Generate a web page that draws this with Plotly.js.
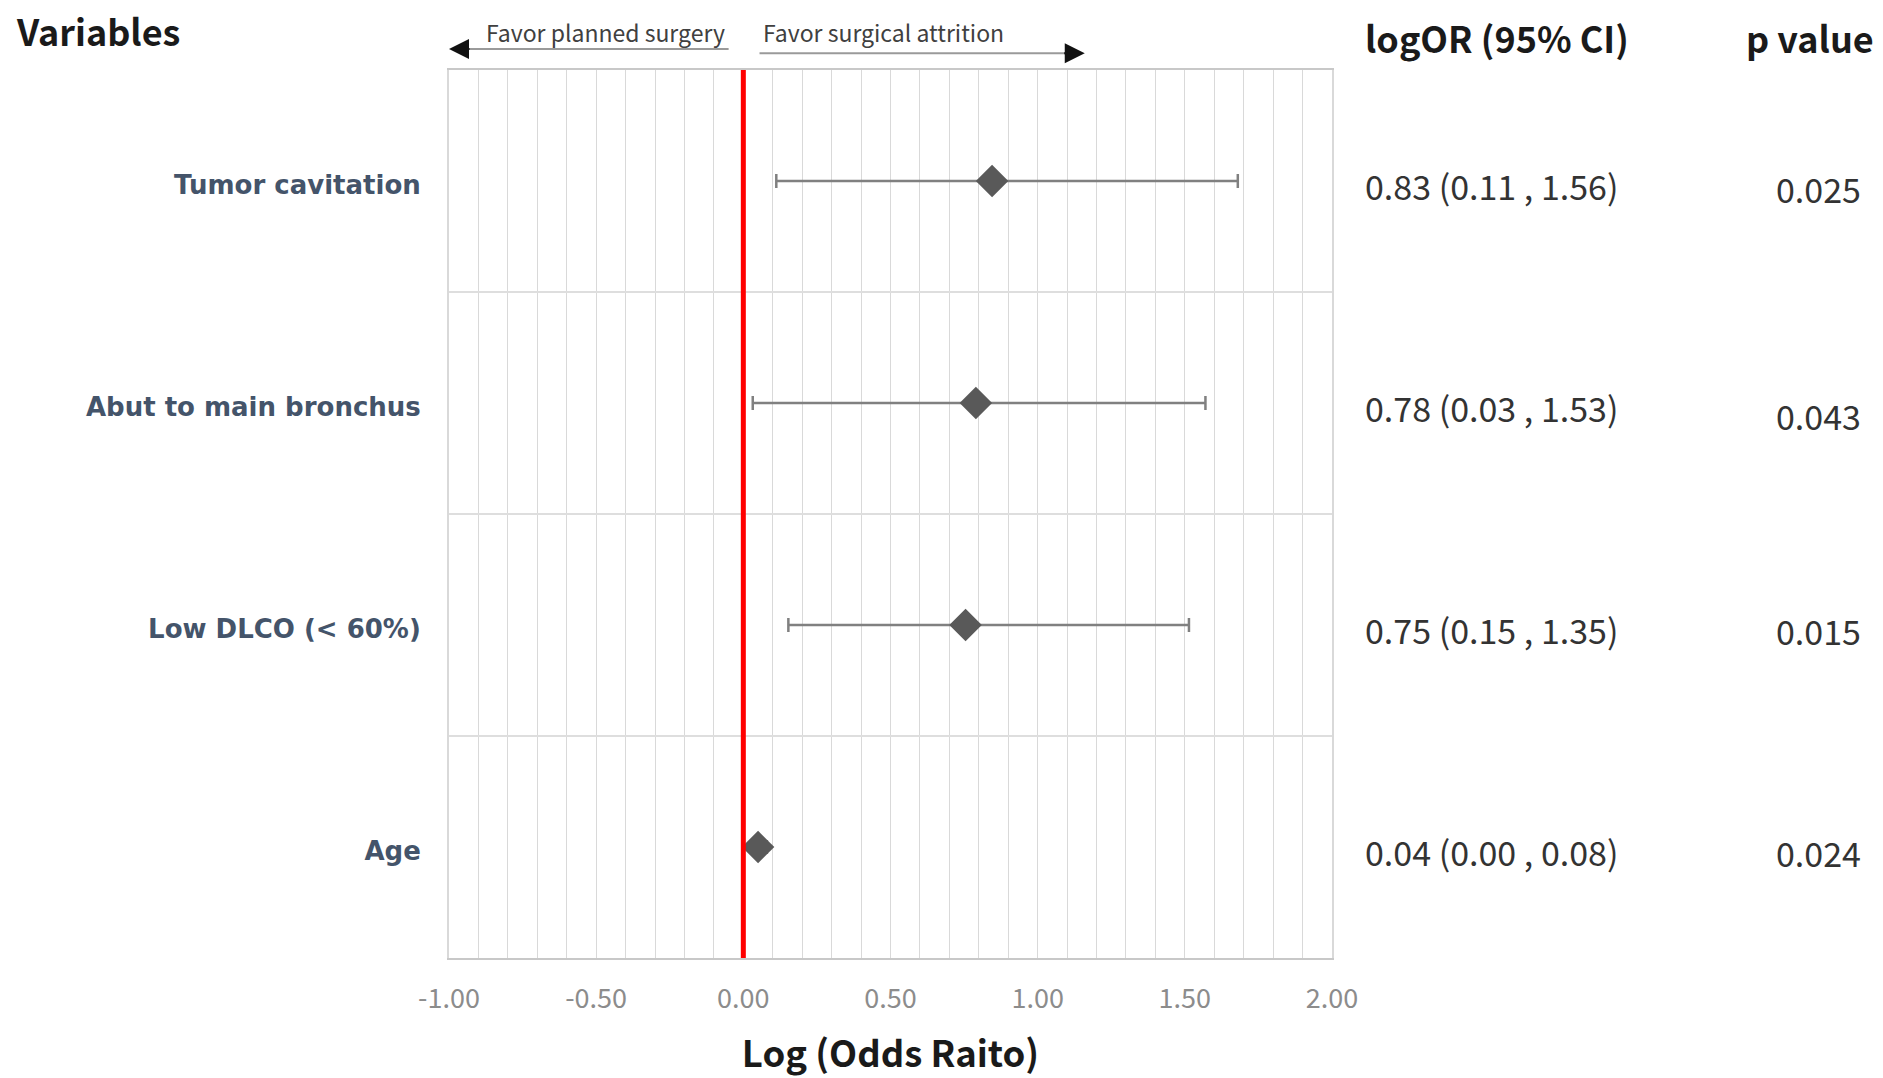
<!DOCTYPE html>
<html><head><meta charset="utf-8">
<script src="https://cdn.plot.ly/plotly-3.0.1.min.js"></script>
<style>html,body{margin:0;padding:0;background:#fff}</style>
</head><body><div id="chart" style="width:1883px;height:1078px"></div>
<script>
// ---- data ----
const variables = ["Tumor cavitation", "Abut to main bronchus", "Low DLCO (< 60%)", "Age"];
const logOR  = [0.845, 0.79, 0.755, 0.05];
const ciLow  = [0.112, 0.032, 0.153, 0.00];
const ciHigh = [1.68, 1.57, 1.514, 0.08];
const ciText = ["0.83 (0.11 , 1.56)", "0.78 (0.03 , 1.53)", "0.75 (0.15 , 1.35)", "0.04 (0.00 , 0.08)"];
const pValues = ["0.025", "0.043", "0.015", "0.024"];
const xTickVals = [-1, -0.5, 0, 0.5, 1, 1.5, 2];
const xTickText = ["-1.00", "-0.50", "0.00", "0.50", "1.00", "1.50", "2.00"];

const SANS = "Noto Sans CJK KR, Noto Sans, sans-serif";
const YFONT = "DejaVu Sans, Verdana, sans-serif";

const trace = {
  type: "scatter",
  mode: "markers",
  x: logOR,
  y: variables,
  marker: {symbol: "diamond", size: 25, color: "#595959"},
  error_x: {
    type: "data", symmetric: false,
    array: ciHigh.map((h, i) => h - logOR[i]),
    arrayminus: logOR.map((v, i) => v - ciLow[i]),
    color: "#808080", thickness: 2.5, width: 7
  },
  hoverinfo: "x+y",
  showlegend: false
};

const pShift = [-7, -12, -5, -5];

const annotations = [];
// headers
annotations.push({xref: "paper", yref: "paper", x: -0.4926, y: 1.045, xanchor: "left", yanchor: "middle",
  text: "Variables", showarrow: false, font: {family: SANS, size: 36, color: "#1a1a1a", weight: "bold"}});
annotations.push({xref: "paper", yref: "paper", x: 1.035, y: 1.037, xanchor: "left", yanchor: "middle",
  text: "logOR (95% CI)", showarrow: false, font: {family: SANS, size: 36, color: "#1a1a1a", weight: "bold"}});
annotations.push({xref: "paper", yref: "paper", x: 1.5413, y: 1.037, xanchor: "center", yanchor: "middle",
  text: "p value", showarrow: false, font: {family: SANS, size: 36, color: "#1a1a1a", weight: "bold"}});
// favor labels
annotations.push({xref: "paper", yref: "paper", x: (484 - 449) / 883, y: 1.0428, xanchor: "left", yanchor: "middle",
  text: "Favor planned surgery", showarrow: false, font: {family: SANS, size: 23, color: "#404040"}});
annotations.push({xref: "paper", yref: "paper", x: (761 - 449) / 883, y: 1.0428, xanchor: "left", yanchor: "middle",
  text: "Favor surgical attrition", showarrow: false, font: {family: SANS, size: 23, color: "#404040"}});
// arrowheads
annotations.push({xref: "x", yref: "paper", x: -1.0, y: 1.0236, ax: 22, ay: 0, axref: "pixel", ayref: "pixel",
  text: "", showarrow: true, arrowhead: 2, arrowsize: 2, arrowwidth: 2, arrowcolor: "#111"});
annotations.push({xref: "x", yref: "paper", x: 1.16, y: 1.019, ax: -22, ay: 0, axref: "pixel", ayref: "pixel",
  text: "", showarrow: true, arrowhead: 2, arrowsize: 2, arrowwidth: 2, arrowcolor: "#111"});
// CI text and p values
variables.forEach((v, i) => {
  annotations.push({xref: "paper", yref: "y", x: 1.035, y: v, yshift: -4, xanchor: "left", yanchor: "middle",
    text: ciText[i], showarrow: false, font: {family: SANS, size: 34, color: "#333333"}});
  annotations.push({xref: "paper", yref: "y", x: 1.5515, y: v, yshift: pShift[i], xanchor: "center", yanchor: "middle",
    text: pValues[i], showarrow: false, font: {family: SANS, size: 34, color: "#333333"}});
});

const layout = {
  width: 1883, height: 1078,
  margin: {l: 449, r: 551, t: 70, b: 120},
  paper_bgcolor: "#ffffff", plot_bgcolor: "#ffffff",
  showlegend: false,
  xaxis: {
    range: [-1, 2], tickvals: xTickVals, ticktext: xTickText,
    showgrid: true, gridcolor: "#d9d9d9", gridwidth: 1,
    minor: {dtick: 0.1, tick0: -1, showgrid: true, gridcolor: "#d9d9d9", gridwidth: 1},
    zeroline: false, showline: true, linecolor: "#c8c8c8", linewidth: 2, mirror: true,
    ticks: "", ticklabelstandoff: 16,
    tickfont: {family: SANS, size: 27, color: "#8c8c8c"},
    title: {text: "Log (Odds Raito)", standoff: 27, font: {family: SANS, size: 36.5, color: "#1a1a1a", weight: "bold"}},
    fixedrange: true
  },
  yaxis: {
    type: "category", categoryorder: "array", categoryarray: variables,
    range: [3.5, -0.5], tickson: "boundaries",
    showgrid: true, gridcolor: "#dedede", gridwidth: 2,
    zeroline: false, showline: true, linecolor: "#d9d9d9", linewidth: 2, mirror: true,
    ticks: "", ticklabelstandoff: 21, ticklabelshift: -4,
    tickfont: {family: YFONT, size: 26, color: "#44546A", weight: "bold"},
    fixedrange: true
  },
  shapes: [
    {type: "line", xref: "x", yref: "paper", x0: 0, x1: 0, y0: 0, y1: 1, layer: "above",
     line: {color: "#ff0000", width: 5}},
    {type: "line", xref: "x", yref: "paper", x0: -0.97, x1: -0.05, y0: 1.0236, y1: 1.0236,
     line: {color: "#9a9a9a", width: 2}},
    {type: "line", xref: "x", yref: "paper", x0: 0.055, x1: 1.13, y0: 1.019, y1: 1.019,
     line: {color: "#9a9a9a", width: 2}}
  ],
  annotations: annotations
};

Plotly.newPlot("chart", [trace], layout, {displayModeBar: false, staticPlot: true});
</script>
</body></html>
